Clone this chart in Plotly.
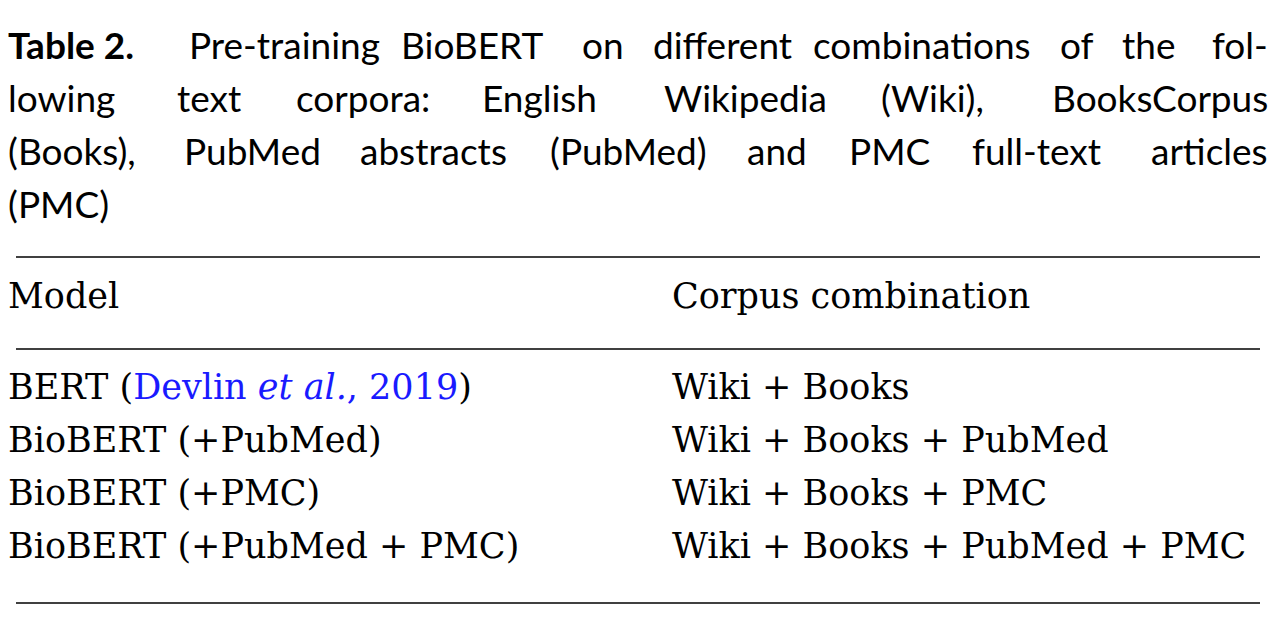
import plotly.graph_objects as go

caption_label = "Table 2."
caption_lines = [
    "Pre-training BioBERT on different combinations of the fol-",
    "lowing text corpora: English Wikipedia (Wiki), BooksCorpus",
    "(Books), PubMed abstracts (PubMed) and PMC full-text articles",
    "(PMC)",
]
headers = ["Model", "Corpus combination"]
models = [
    "BERT (<span style='color:#1a1aff'>Devlin <i>et al.</i>, 2019</span>)",
    "BioBERT (+PubMed)",
    "BioBERT (+PMC)",
    "BioBERT (+PubMed + PMC)",
]
corpora = [
    "Wiki + Books",
    "Wiki + Books + PubMed",
    "Wiki + Books + PMC",
    "Wiki + Books + PubMed + PMC",
]

W, H = 1280, 620
LEFT, RIGHT, COL2 = 8, 1252, 672
SANS = "Lato, Open Sans, sans-serif"
SERIF = "DejaVu Serif, Liberation Serif, serif"
CAP_SIZE = 37
DX, DY = -10, 8  # annotation box padding compensation


def est_width(s, size=CAP_SIZE, bold=False):
    w = 0.0
    for ch in s:
        if ch in "iljtfr()[]:.,-'|I!":
            w += 0.27
        elif ch in "mwMW":
            w += 0.82
        elif ch.isupper():
            w += 0.64
        elif ch.isdigit():
            w += 0.55
        else:
            w += 0.52
    return w * size * (1.05 if bold else 1.0)


fig = go.Figure()
ann = []


def text(x, y, s, font, size=CAP_SIZE, anchor="left"):
    ann.append(dict(x=x, y=y, text=s, showarrow=False, xanchor=anchor,
                    yanchor="middle", xshift=DX if anchor == "left" else -DX,
                    yshift=DY, font=dict(family=font, size=size, color="black")))


# caption, justified line by line (last line left aligned)
cap_y = [44, 97, 150, 203]
for i, line in enumerate(caption_lines):
    words = line.split(" ")
    widths = [est_width(w) for w in words]
    if i == 0:
        words = ["<b>" + caption_label + "</b>"] + words
        widths = [est_width(caption_label, bold=True)] + widths
    if i == len(caption_lines) - 1:
        text(LEFT, cap_y[i], " ".join(words), SANS)
        continue
    gap = (RIGHT - LEFT - sum(widths)) / (len(words) - 1)
    x = LEFT
    for j, w in enumerate(words):
        if j == len(words) - 1:
            text(RIGHT, cap_y[i], w, SANS, anchor="right")
        else:
            text(x, cap_y[i], w, SANS)
        x += widths[j] + gap

# table
text(LEFT, 296, headers[0], SERIF, 35)
text(COL2, 296, headers[1], SERIF, 35)
row_y = [387, 440, 493, 546]
for m, c, y in zip(models, corpora, row_y):
    text(LEFT, y, m, SERIF, 35)
    text(COL2, y, c, SERIF, 35)

shapes = [dict(type="line", x0=LEFT, x1=RIGHT, y0=y, y1=y, xref="x", yref="y",
               line=dict(color="black", width=1.3)) for y in (249, 341, 595)]

fig.update_layout(
    width=W, height=H, margin=dict(l=0, r=0, t=0, b=0),
    paper_bgcolor="white", plot_bgcolor="white",
    xaxis=dict(range=[0, W], visible=False, fixedrange=True),
    yaxis=dict(range=[H, 0], visible=False, fixedrange=True),
    annotations=ann, shapes=shapes, showlegend=False,
)
fig.write_html("out.html")
